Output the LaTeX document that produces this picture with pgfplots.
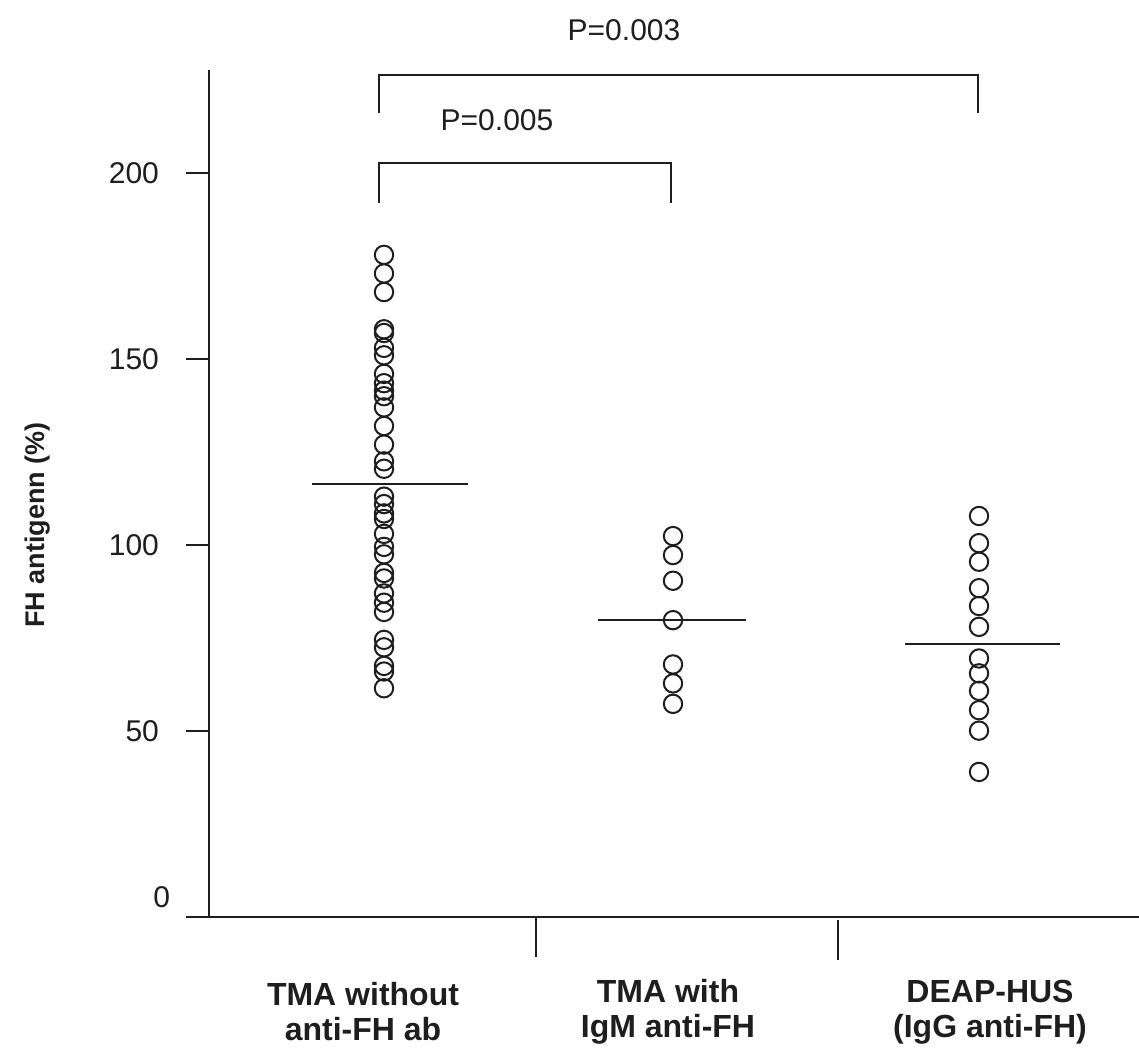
\documentclass[border=0pt]{standalone}
\usepackage{fontspec}
\setmainfont{Liberation Sans}
\usepackage{pgfplots}
\pgfplotsset{compat=1.18}
\definecolor{ink}{HTML}{1E1E1E}
\begin{document}
\begin{tikzpicture}[x=1pt,y=1pt]
\useasboundingbox (0,0) rectangle (569.5,528.5);
\begin{axis}[
  at={(104.5pt,70pt)}, anchor=south west,
  scale only axis, width=465pt, height=423.5pt,
  xmin=209, xmax=1139, ymin=0, ymax=227.7,
  axis x line=bottom, axis y line=left,
  axis line style={-, line width=1pt, color=ink},
  xtick=\empty,
  ytick={50,100,150,200},
  extra y ticks={0},
  extra y tick style={yticklabel style={yshift=10pt, xshift=5.5pt}},
  tick align=outside,
  major tick length=11.5pt,
  tick style={line width=1pt, color=ink},
  yticklabel style={font=\fontsize{15}{15}\selectfont, xshift=-10pt, text=ink},
  /pgf/number format/assume math mode=true,
  clip=false,
]
% group 1: TMA without anti-FH ab
\addplot[only marks, mark=o, mark size=4.6pt, mark options={line width=1pt, draw=ink}] coordinates {
(384,178) (384,173) (384,168) (384,158) (384,157) (384,153) (384,151) (384,146)
(384,143.5) (384,141.5) (384,140) (384,137) (384,132) (384,127) (384,122.5) (384,120.5)
(384,113) (384,111) (384,108.5) (384,107) (384,103) (384,99.5) (384,97.5) (384,92.5)
(384,91) (384,87) (384,84.5) (384,82) (384,74.5) (384,72.5) (384,67.5) (384,66) (384,61.5)
};
% group 2: TMA with IgM anti-FH
\addplot[only marks, mark=o, mark size=4.6pt, mark options={line width=1pt, draw=ink}] coordinates {
(673,102.4) (673,97.3) (673,90.4) (673,79.8) (673,67.9) (673,62.8) (673,57.3)
};
% group 3: DEAP-HUS
\addplot[only marks, mark=o, mark size=4.6pt, mark options={line width=1pt, draw=ink}] coordinates {
(979,107.8) (979,100.5) (979,95.5) (979,88.4) (979,83.6) (979,78.0)
(979,69.5) (979,65.5) (979,60.8) (979,55.6) (979,50.1) (979,39.0)
};
% medians
\addplot[line width=1pt, color=ink] coordinates {(312,116.5) (468,116.5)};
\addplot[line width=1pt, color=ink] coordinates {(598,79.8) (746,79.8)};
\addplot[line width=1pt, color=ink] coordinates {(905,73.4) (1060,73.4)};
% brackets
\draw[line width=1pt, color=ink] (axis cs:379,216.1) -- (axis cs:379,226.3) -- (axis cs:978,226.3) -- (axis cs:978,216.1);
\draw[line width=1pt, color=ink] (axis cs:379,191.9) -- (axis cs:379,202.7) -- (axis cs:671,202.7) -- (axis cs:671,191.9);
\node[font=\fontsize{15}{15}\selectfont, text=ink] at (axis cs:624,238.4) {P=0.003};
\node[font=\fontsize{15}{15}\selectfont, text=ink] at (axis cs:497,214.2) {P=0.005};
% group separator ticks
\draw[line width=1pt, color=ink] (axis cs:536,0) -- (axis cs:536,-10.8);
\draw[line width=1pt, color=ink] (axis cs:838,-0.8) -- (axis cs:838,-11.6);
% category labels
\node[font=\bfseries\fontsize{16}{17.5}\selectfont, align=center, text=ink] at (axis cs:363,-25.5) {TMA without\\anti-FH ab};
\node[font=\bfseries\fontsize{16}{17.5}\selectfont, align=center, text=ink] at (axis cs:668,-25.5) {TMA with\\IgM anti-FH};
\node[font=\bfseries\fontsize{16}{17.5}\selectfont, align=center, text=ink] at (axis cs:990,-25.5) {DEAP-HUS\\(IgG anti-FH)};
% y label
\node[font=\bfseries\fontsize{13.5}{13.5}\selectfont, rotate=90, text=ink] at (axis cs:38,105.4) {FH antigenn (\%)};
\end{axis}
\end{tikzpicture}
\end{document}
